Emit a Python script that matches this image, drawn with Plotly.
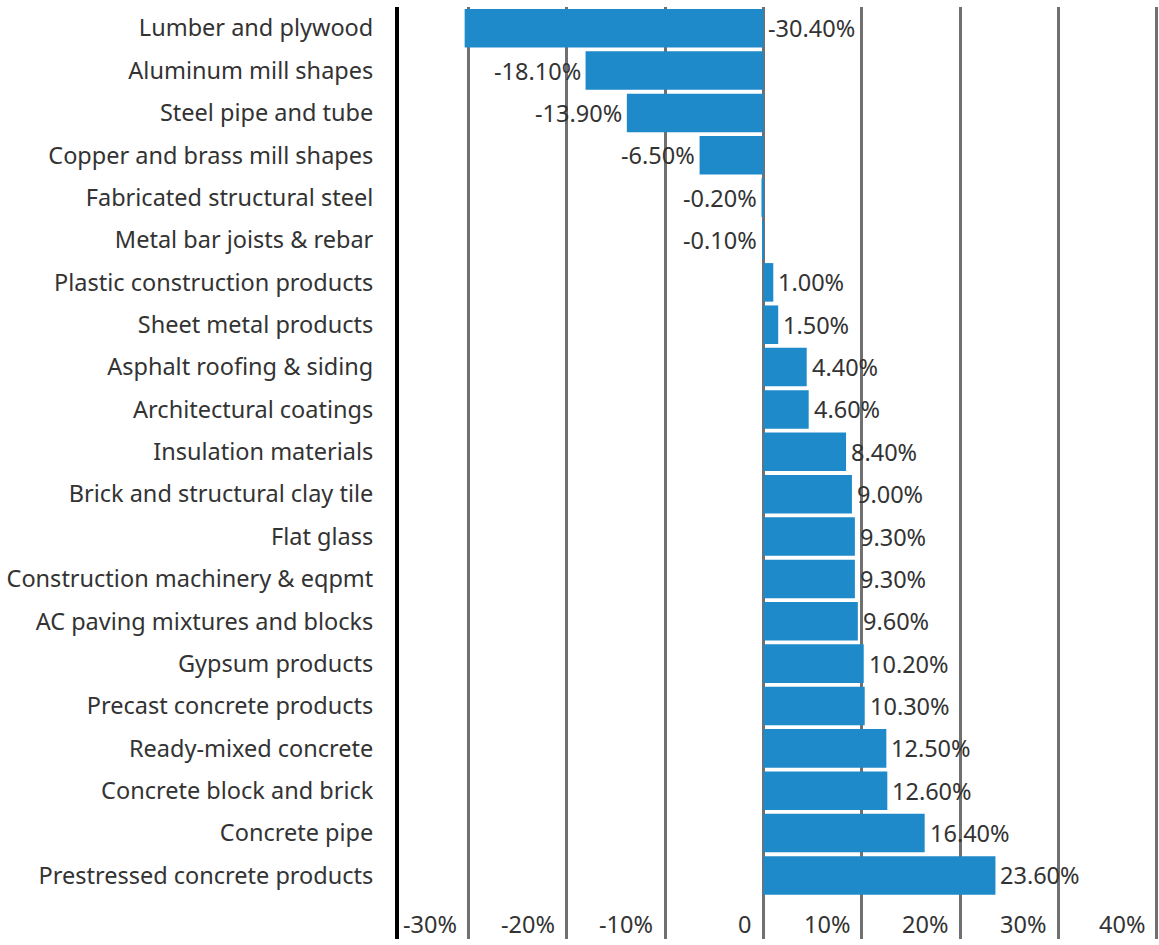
import plotly.graph_objects as go

categories = [
    "Lumber and plywood", "Aluminum mill shapes", "Steel pipe and tube",
    "Copper and brass mill shapes", "Fabricated structural steel",
    "Metal bar joists & rebar", "Plastic construction products",
    "Sheet metal products", "Asphalt roofing & siding", "Architectural coatings",
    "Insulation materials", "Brick and structural clay tile", "Flat glass",
    "Construction machinery & eqpmt", "AC paving mixtures and blocks",
    "Gypsum products", "Precast concrete products", "Ready-mixed concrete",
    "Concrete block and brick", "Concrete pipe", "Prestressed concrete products",
]
values = [-30.4, -18.1, -13.9, -6.5, -0.2, -0.1, 1.0, 1.5, 4.4, 4.6, 8.4, 9.0,
          9.3, 9.3, 9.6, 10.2, 10.3, 12.5, 12.6, 16.4, 23.6]
tick_values = [-30, -20, -10, 0, 10, 20, 30, 40]
tick_labels = ["-30%", "-20%", "-10%", "0", "10%", "20%", "30%", "40%"]

X_RANGE = [-37.08, 40.24]
FONT = "Noto Sans"
FS = 23.5
TXT = "#333333"
BAR = "#1f8ac9"

fig = go.Figure()
fig.add_trace(go.Bar(
    x=values, y=categories, orientation="h",
    marker=dict(color=BAR, line=dict(width=0)),
    hoverinfo="x+y",
))

annotations = []
for i, v in enumerate(values):
    txt = f"{v:.2f}%"
    if v >= 0:
        annotations.append(dict(x=v, y=i, text=txt, xanchor="left", xshift=3,
                                showarrow=False))
    elif v - X_RANGE[0] > 9.5:
        annotations.append(dict(x=v, y=i, text=txt, xanchor="right", xshift=-3,
                                showarrow=False))
    else:
        annotations.append(dict(x=0, y=i, text=txt, xanchor="left", xshift=3,
                                showarrow=False))

for tv, tl in zip(tick_values, tick_labels):
    annotations.append(dict(x=tv, y=len(categories), text=tl, xanchor="right",
                            xshift=-10, yshift=-6, showarrow=False))

for a in annotations:
    a.update(xref="x", yref="y", font=dict(family=FONT, size=FS, color=TXT))

fig.update_layout(
    width=1159, height=945,
    margin=dict(l=399, r=0, t=7, b=6),
    paper_bgcolor="white", plot_bgcolor="white",
    bargap=0.09,
    showlegend=False,
    font=dict(family=FONT, size=FS, color=TXT),
    annotations=annotations,
    xaxis=dict(
        range=X_RANGE, tickvals=tick_values, showticklabels=False,
        showgrid=True, gridcolor="#707070", gridwidth=2.5,
        zeroline=True, zerolinecolor="#707070", zerolinewidth=2.5,
        showline=False, fixedrange=True,
    ),
    yaxis=dict(
        categoryorder="array", categoryarray=categories,
        range=[len(categories) + 0.5, -0.5],
        showline=True, linecolor="black", linewidth=4,
        showgrid=False, zeroline=False,
        ticks="", ticklabelstandoff=17,
        tickfont=dict(family=FONT, size=FS, color=TXT),
        fixedrange=True,
    ),
)

fig.write_html("out.html")
